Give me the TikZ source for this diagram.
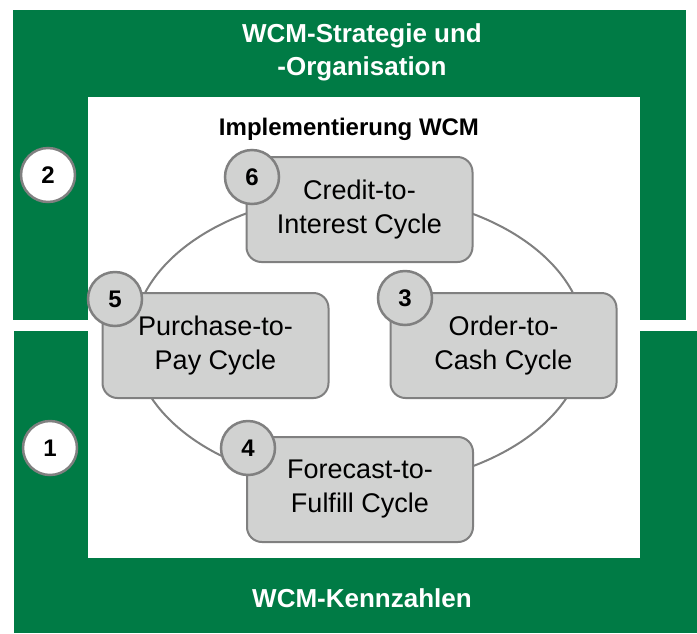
\documentclass[tikz,border=0pt]{standalone}
\usepackage{fontspec}
\setmainfont{Liberation Sans}
\definecolor{wcmgreen}{RGB}{0,123,69}
\definecolor{boxgray}{RGB}{209,210,209}
\definecolor{linegray}{RGB}{128,128,128}

\begin{document}
\begin{tikzpicture}[x=1pt,y=-1pt,
  cyclebox/.style={draw=linegray,line width=2pt,fill=boxgray,rounded corners=15pt,
    minimum width=226pt,minimum height=105pt,align=center,
    font=\fontsize{27}{34}\selectfont},
  numcircle/.style={circle,draw=linegray,line width=2.5pt,fill=boxgray,
    minimum size=54pt,inner sep=0pt,font=\fontsize{24}{24}\selectfont\bfseries},
  greentitle/.style={text=white,align=center,font=\fontsize{26}{33}\selectfont\bfseries}]
\useasboundingbox (0,0) rectangle (697,633);
\fill[wcmgreen] (13,10) rectangle (686,320);
\fill[wcmgreen] (14,331) rectangle (697,633);
\fill[white] (88,97) rectangle (640,558);

\draw (362,52) node[greentitle] (strategie) {WCM-Strategie und\\-Organisation};
\draw (362,598) node[greentitle] (kennzahlen) {WCM-Kennzahlen};
\draw (349,129) node[font=\fontsize{24}{24}\selectfont\bfseries] (impl) {Implementierung WCM};

\draw[linegray,line width=2pt] (359,340) ellipse [x radius=226,y radius=146];

\draw (359.5,209.5) node[cyclebox] (credit) {Credit-to-\\Interest Cycle};
\draw (215.5,345.5) node[cyclebox] (purchase) {Purchase-to-\\Pay Cycle};
\draw (503.5,345.5) node[cyclebox] (order) {Order-to-\\Cash Cycle};
\draw (360,489.5) node[cyclebox] (forecast) {Forecast-to-\\Fulfill Cycle};

\draw (252,177) node[numcircle] (six) {6};
\draw (115,299) node[numcircle] (five) {5};
\draw (405,298) node[numcircle] (three) {3};
\draw (248,448) node[numcircle] (four) {4};
\draw (48,175) node[numcircle,fill=white] (two) {2};
\draw (50,448) node[numcircle,fill=white] (one) {1};
\end{tikzpicture}
\end{document}
